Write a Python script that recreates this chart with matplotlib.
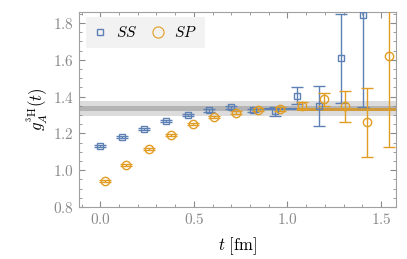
import matplotlib
matplotlib.use("Agg")
import matplotlib.pyplot as plt
from matplotlib.ticker import MultipleLocator, FuncFormatter
from matplotlib.lines import Line2D
import numpy as np

plt.rcParams["mathtext.fontset"] = "cm"

# ------------------------------------------------------
# Data
# ------------------------------------------------------
ss_t = [0.0, 0.117, 0.233, 0.35, 0.466, 0.583, 0.70, 0.815, 0.933, 1.05, 1.167, 1.286, 1.403]
ss_g = [1.130, 1.182, 1.225, 1.266, 1.300, 1.325, 1.342, 1.325, 1.320, 1.405, 1.348, 1.607, 1.843]
ss_err = [0.005, 0.005, 0.006, 0.006, 0.007, 0.007, 0.008, 0.010, 0.025, 0.047, 0.107, 0.24, 0.50]

sp_t = [0.024, 0.140, 0.258, 0.376, 0.493, 0.607, 0.724, 0.841, 0.958, 1.077, 1.193, 1.310, 1.425, 1.542]
sp_g = [0.939, 1.029, 1.117, 1.193, 1.250, 1.288, 1.312, 1.328, 1.333, 1.351, 1.384, 1.346, 1.259, 1.618]
sp_err = [0.005, 0.005, 0.006, 0.006, 0.007, 0.007, 0.008, 0.008, 0.010, 0.018, 0.037, 0.085, 0.19, 0.49]

# combined result bands (outer, inner)
band_outer = (1.292, 1.375)
band_inner = (1.320, 1.347)
# fit lines
ss_fit_t = (0.81, 1.05)
ss_fit_g = 1.330
sp_fit_t = (1.05, 1.60)
sp_fit_band = (1.324, 1.338)

blue = "#5e81b5"
orange = "#e19c24"
gray = "#8a8a8a"

# ------------------------------------------------------
# Figure
# ------------------------------------------------------
fig = plt.figure(figsize=(4.07, 2.59), dpi=100)
ax = fig.add_axes([0.194, 0.201, 0.779, 0.753])

ax.axhspan(*band_outer, color="#dcdcdc", lw=0, zorder=0)
ax.axhspan(*band_inner, color="#b4b4b4", lw=0, zorder=0)
ax.plot(ss_fit_t, [ss_fit_g, ss_fit_g], color=blue, lw=1.5, zorder=1)
ax.fill_between(sp_fit_t, *sp_fit_band, color="#d09a3a", lw=0, zorder=1)

ax.errorbar(ss_t, ss_g, yerr=ss_err, fmt="s", ms=5, mfc="none", mec=blue,
            mew=1.0, ecolor=blue, elinewidth=1.0, capsize=4, capthick=1.0,
            zorder=3)
ax.errorbar(sp_t, sp_g, yerr=sp_err, fmt="o", ms=6, mfc="none", mec=orange,
            mew=1.0, ecolor=orange, elinewidth=1.0, capsize=4, capthick=1.0,
            zorder=3)

ax.set_xlim(-0.114, 1.58)
ax.set_ylim(0.8, 1.86)

ax.xaxis.set_major_locator(MultipleLocator(0.5))
ax.xaxis.set_minor_locator(MultipleLocator(0.1))
ax.yaxis.set_major_locator(MultipleLocator(0.2))
ax.yaxis.set_minor_locator(MultipleLocator(0.05))
fmt = FuncFormatter(lambda v, p: r"$%.1f$" % v)
ax.xaxis.set_major_formatter(fmt)
ax.yaxis.set_major_formatter(fmt)

ax.tick_params(which="both", direction="in", top=True, right=True,
               color=gray, labelcolor=gray, labelsize=11)
ax.tick_params(which="major", length=4, width=0.8)
ax.tick_params(which="minor", length=2, width=0.6)
for s in ax.spines.values():
    s.set_color("#a0a0a0")
    s.set_linewidth(0.8)

ax.set_xlabel(r"$t\ [\mathrm{fm}]$", fontsize=12, labelpad=6)
ax.set_ylabel(r"$g_A^{^3\mathrm{H}}(t)$", fontsize=12, labelpad=2)

# legend: plain markers only
handles = [
    Line2D([], [], ls="none", marker="s", ms=5, mfc="none", mec=blue, mew=1.0),
    Line2D([], [], ls="none", marker="o", ms=8, mfc="none", mec=orange, mew=0.8),
]
leg = ax.legend(handles, ["$SS$", "$SP$"], loc="upper left", ncol=2,
                frameon=True, fontsize=11, handlelength=0.8,
                handletextpad=0.7, columnspacing=0.9, borderpad=0.5,
                borderaxespad=0.0, fancybox=False,
                bbox_to_anchor=(0.022, 0.972))
leg.get_frame().set_facecolor("#f2f2f2")
leg.get_frame().set_edgecolor("none")
leg.get_frame().set_alpha(1)

plt.savefig("out.png", dpi=100)
plt.close()
